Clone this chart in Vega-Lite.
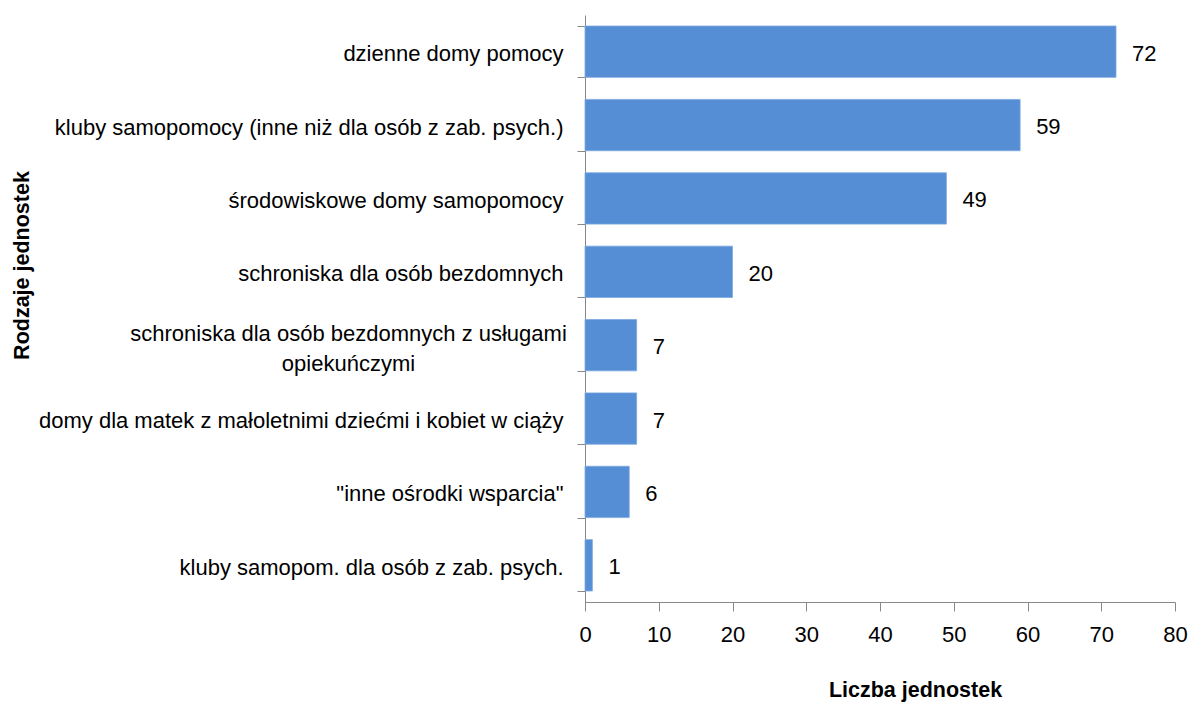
{
  "$schema": "https://vega.github.io/schema/vega-lite/v6.json",
  "width": 590,
  "height": 587,
  "autosize": {"type": "none"},
  "padding": {"left": 585, "top": 15, "right": 17, "bottom": 100},
  "background": "white",
  "config": {
    "view": {"stroke": null},
    "font": "Liberation Sans",
    "axis": {"labelFont": "Liberation Sans", "titleFont": "Liberation Sans", "labelColor": "#000", "titleColor": "#000", "domainColor": "#888", "tickColor": "#888", "grid": false}
  },
  "data": {
    "values": [
      {"rodzaj": "dzienne domy pomocy", "liczba": 72},
      {"rodzaj": "kluby samopomocy (inne niż dla osób z zab. psych.)", "liczba": 59},
      {"rodzaj": "środowiskowe domy samopomocy", "liczba": 49},
      {"rodzaj": "schroniska dla osób bezdomnych", "liczba": 20},
      {"rodzaj": "schroniska dla osób bezdomnych z usługami opiekuńczymi", "liczba": 7},
      {"rodzaj": "domy dla matek z małoletnimi dziećmi i kobiet w ciąży", "liczba": 7},
      {"rodzaj": "\"inne ośrodki wsparcia\"", "liczba": 6},
      {"rodzaj": "kluby samopom. dla osób z zab. psych.", "liczba": 1}
    ]
  },
  "encoding": {
    "y": {
      "field": "rodzaj",
      "type": "nominal",
      "sort": null,
      "scale": {"paddingInner": 0.3, "paddingOuter": 0.15}
    }
  },
  "layer": [
    {
      "mark": {"type": "bar", "color": "#558ED5", "stroke": "#7ea9df", "strokeWidth": 0.8},
      "encoding": {
        "x": {
          "field": "liczba",
          "type": "quantitative",
          "scale": {"domain": [0, 80], "nice": false},
          "axis": {
            "values": [0, 10, 20, 30, 40, 50, 60, 70, 80],
            "title": "Liczba jednostek",
            "titleFontSize": 21.5,
            "titleFontWeight": "bold",
            "titleX": 330,
            "titleY": 88,
            "titleAnchor": null,
            "titleAlign": "center",
            "titleBaseline": "middle",
            "labelFontSize": 22,
            "labelPadding": 13,
            "tickSize": 9,
            "labelFlush": false
          }
        },
        "y": {
          "field": "rodzaj",
          "type": "nominal",
          "sort": null,
          "axis": {
            "title": "Rodzaje jednostek",
            "titleFontSize": 21.5,
            "titleFontWeight": "bold",
            "titleX": -563,
            "titleY": 250,
            "titleAngle": -90,
            "titleAlign": "center",
            "titleBaseline": "middle",
            "labelFontSize": 22,
            "labelPadding": 14,
            "labelOffset": 2,
            "tickSize": 8,
            "tickBand": "extent",
            "labelLimit": 700,
            "labelOverlap": false,
            "labelExpr": "datum.value == 'schroniska dla osób bezdomnych z usługami opiekuńczymi' ? '' : datum.value"
          }
        }
      }
    },
    {
      "mark": {"type": "text", "align": "left", "baseline": "middle", "dx": 16, "dy": 2, "fontSize": 22, "color": "#000"},
      "encoding": {
        "x": {"field": "liczba", "type": "quantitative"},
        "y": {
          "field": "rodzaj",
          "type": "nominal",
          "sort": null,
          "axis": {
            "orient": "left",
            "title": null,
            "domain": false,
            "ticks": false,
            "labelFontSize": 22,
            "labelPadding": 237,
            "labelAlign": "center",
            "labelLineHeight": 30,
            "labelOffset": -11,
            "labelLimit": 700,
            "labelOverlap": false,
            "labelExpr": "datum.value == 'schroniska dla osób bezdomnych z usługami opiekuńczymi' ? ['schroniska dla osób bezdomnych z usługami', 'opiekuńczymi'] : ''"
          }
        },
        "text": {"field": "liczba", "type": "quantitative"}
      }
    }
  ],
  "resolve": {"axis": {"y": "independent"}}
}
